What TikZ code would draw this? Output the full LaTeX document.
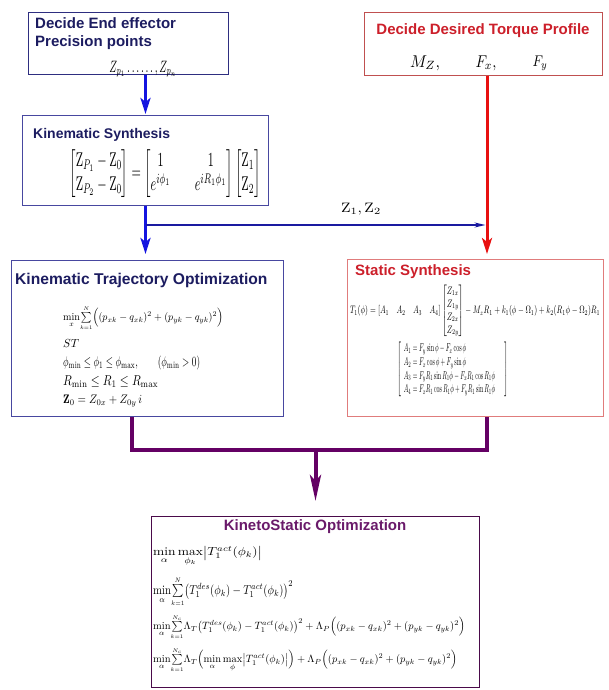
\documentclass[tikz,border=0pt]{standalone}
\usepackage{amsmath}
\usepackage{graphicx}
\usepackage{fontspec}
\newfontfamily\hfont{Liberation Sans}
\usetikzlibrary{arrows.meta,calc}
\definecolor{navytxt}{HTML}{1C1C60}
\definecolor{navybd}{HTML}{2E2E80}
\definecolor{navybd2}{HTML}{4848A0}
\definecolor{redtxt}{HTML}{CC1F2A}
\definecolor{redbd}{HTML}{C05050}
\definecolor{redbd2}{HTML}{E07C7C}
\definecolor{redarr}{HTML}{E81010}
\definecolor{bluearr}{HTML}{1414E0}
\definecolor{blueline}{HTML}{1A1AA0}
\definecolor{purpline}{HTML}{640064}
\definecolor{purptxt}{HTML}{6A1A6A}
\definecolor{purpbd}{HTML}{4A0A4A}
\newcommand\rbx[3]{\resizebox*{#1pt}{#2pt}{$\displaystyle #3$}}
\newcommand\sm[1]{\smash{\displaystyle #1}}
\newcommand\ssum[2]{\smash{\textstyle\sum\limits_{\scriptscriptstyle #1}^{\scriptscriptstyle #2}}}
\begin{document}
\begin{tikzpicture}[x=1pt,y=-1pt,
  box/.style={draw, line width=1pt, anchor=north west, inner sep=0pt},
  ttl/.style={font=\hfont\bfseries\fontsize{15}{17}\selectfont, inner sep=0pt, anchor=base west},
  eq/.style={inner sep=0pt},
  bigblue/.style={draw=bluearr, line width=3pt, -{Stealth[length=16pt,width=10pt,inset=4pt]}},
  bigred/.style={draw=redarr, line width=3pt, -{Stealth[length=16pt,width=10pt,inset=4pt]}},
  purp/.style={draw=purpline, line width=4pt},
  purparr/.style={draw=purpline, line width=4pt, -{Stealth[length=26pt,width=11pt,inset=6pt]}},
  ]
\useasboundingbox (0,0) rectangle (609,690);
% boxes
\node[box, draw=navybd, minimum width=200pt, minimum height=62pt] (b1) at (28,12) {};
\node[box, draw=redbd, minimum width=238pt, minimum height=63pt] (b2) at (364,12) {};
\node[box, draw=navybd2, minimum width=246pt, minimum height=90pt] (ks) at (22,115) {};
\node[box, draw=navybd2, minimum width=272pt, minimum height=156pt] (kto) at (11,260) {};
\node[box, draw=redbd2, minimum width=256pt, minimum height=157pt] (ss) at (347,259) {};
\node[box, draw=purpbd, minimum width=328pt, minimum height=171pt] (kso) at (151,516) {};
% box 1
\node[ttl, text=navytxt] (t1a) at (35,29) {Decide End effector};
\node[ttl, text=navytxt] (t1b) at (35,47) {Precision points};
\node[eq] (m1) at (143,69) {\rbx{67}{16}{Z_{p_1}\ldots\ldots,Z_{p_n}}};
% box 2
\node[ttl, text=redtxt, anchor=base] (t2) at (483,35) {Decide Desired Torque Profile};
\node[eq] (m2a) at (425,63) {\rbx{30}{15}{M_Z,}};
\node[eq] (m2b) at (486,63) {\rbx{21}{15}{F_x,}};
\node[eq] (m2c) at (540,63) {\rbx{15}{15}{F_y}};
% kinematic synthesis
\node[ttl, text=navytxt, font=\hfont\bfseries\fontsize{14}{16}\selectfont] (t3) at (33,138) {Kinematic Synthesis};
\node[eq] (m3) at (165,174) {\rbx{191}{48}{\begin{bmatrix}\mathrm{Z}_{P_1}-\mathrm{Z}_0\\ \mathrm{Z}_{P_2}-\mathrm{Z}_0\end{bmatrix}=\begin{bmatrix}1 & \quad 1\\ e^{i\phi_1} & \quad e^{iR_1\phi_1}\end{bmatrix}\begin{bmatrix}\mathrm{Z}_1\\ \mathrm{Z}_2\end{bmatrix}}};
% kinematic trajectory optimization
\node[ttl, text=navytxt, font=\hfont\bfseries\fontsize{15.6}{17}\selectfont] (t4) at (15,284) {Kinematic Trajectory Optimization};
\node[eq, anchor=west] (k1) at (63,318) {\rbx{160}{19}{\sm{\min_{x}}\ssum{k=1}{N}\Bigl((p_{xk}-q_{xk})^2+(p_{yk}-q_{yk})^2\Bigr)}};
\node[eq, anchor=west] (k2) at (63,343) {\rbx{16}{8}{ST}};
\node[eq, anchor=west] (k3) at (63,363) {\rbx{137}{14}{\phi_{\min}\le\phi_1\le\phi_{\max},\qquad(\phi_{\min}>0)}};
\node[eq, anchor=west] (k4) at (63,382) {\rbx{95}{12}{R_{\min}\le R_1\le R_{\max}}};
\node[eq, anchor=west] (k5) at (63,401) {\rbx{79}{12}{\mathbf{Z}_0=Z_{0x}+Z_{0y}\,i}};
% static synthesis
\node[ttl, text=redtxt] (t5) at (355,275) {Static Synthesis};
\node[eq] (s1) at (475,311) {\rbx{250}{52}{T_1(\phi)=[A_1\quad A_2\quad A_3\quad A_4]\begin{bmatrix}Z_{1x}\\ Z_{1y}\\ Z_{2x}\\ Z_{2y}\end{bmatrix}-M_zR_1+k_1(\phi-\Omega_1)+k_2(R_1\phi-\Omega_2)R_1}};
\node[eq] (s2) at (452.5,369.5) {\rbx{111}{55}{\left[\begin{array}{l}A_1=F_y\sin\phi-F_x\cos\phi\\ A_2=F_x\cos\phi+F_y\sin\phi\\ A_3=F_yR_1\sin R_1\phi-F_xR_1\cos R_1\phi\\ A_4=F_xR_1\cos R_1\phi+F_yR_1\sin R_1\phi\quad\end{array}\right]}};
% kinetostatic optimization
\node[ttl, text=purptxt, anchor=base] (t6) at (315,530) {KinetoStatic Optimization};
\node[eq, anchor=west] (o1) at (153,553) {\rbx{109}{14}{\sm{\min_{\alpha}\max_{\phi_k}}\bigl|T_1^{act}(\phi_k)\bigr|}};
\node[eq, anchor=west] (o2) at (153,590) {\rbx{140}{18}{\sm{\min_{\alpha}}\ssum{k=1}{N}\bigl(T_1^{des}(\phi_k)-T_1^{act}(\phi_k)\bigr)^2}};
\node[eq, anchor=west] (o3) at (153,627) {\rbx{312}{19}{\sm{\min_{\alpha}}\ssum{k=1}{N_c}\Lambda_T\bigl(T_1^{des}(\phi_k)-T_1^{act}(\phi_k)\bigr)^2+\Lambda_P\Bigl((p_{xk}-q_{xk})^2+(p_{yk}-q_{yk})^2\Bigr)}};
\node[eq, anchor=west] (o4) at (153,660) {\rbx{304}{19}{\sm{\min_{\alpha}}\ssum{k=1}{N_c}\Lambda_T\Bigl(\sm{\min_{\alpha}\max_{\phi}}\bigl|T_1^{act}(\phi_k)\bigr|\Bigr)+\Lambda_P\Bigl((p_{xk}-q_{xk})^2+(p_{yk}-q_{yk})^2\Bigr)}};
% connectors
\coordinate (rx) at (487,0);
\coordinate (j) at ($(ks.south)+(0,19)$);
\coordinate (pl) at (132,450);
\coordinate (pr) at (487,450);
\draw[bigblue, shorten >=1pt] (b1.south -| ks.north) -- (ks.north);
\draw[bigblue, shorten >=6pt] (ks.south) -- (ks.south |- kto.north);
\draw[blueline, line width=1.5pt, -{Stealth[length=11pt,width=5pt]}, shorten >=1.5pt] (j) -- (j -| rx);
\draw[bigred, shorten >=5pt] (b2.south -| rx) -- (ss.north -| rx);
\node[eq] (zl) at (361,209) {\rbx{40}{12}{\mathrm{Z}_1,\mathrm{Z}_2}};
\draw[purp, line join=miter] (kto.south -| pl) -- (pl) -- (pr) -- (ss.south -| pr);
\draw[purparr, shorten >=15pt] (kso.north |- pl) -- (kso.north);
\end{tikzpicture}
\end{document}
